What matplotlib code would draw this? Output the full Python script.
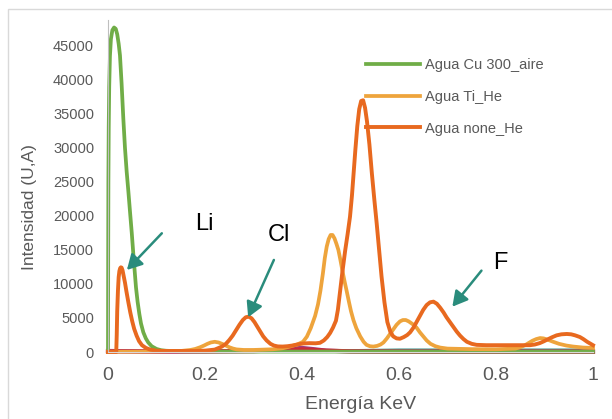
import matplotlib
matplotlib.use("Agg")
import matplotlib.pyplot as plt
from matplotlib.patches import Rectangle

plt.rcParams["font.family"] = ["Liberation Sans", "DejaVu Sans"]

# Agua Cu 300_aire
x_cu = [0.0, 0.0004, 0.0008, 0.0015, 0.0025, 0.004, 0.006, 0.009, 0.0125, 0.016,
        0.019, 0.022, 0.0247, 0.028, 0.0316, 0.035, 0.0385, 0.042, 0.0454, 0.049,
        0.052, 0.055, 0.0577, 0.061, 0.0646, 0.068, 0.0728, 0.078, 0.083, 0.09,
        0.10, 0.11, 0.12, 0.15, 0.20, 0.30, 0.40, 0.50, 0.60, 0.70,
        0.80, 0.90, 1.0]
y_cu = [0, 14000, 25000, 33000, 39000, 43500, 46000, 47300, 47700, 47500,
        46700, 45300, 43600, 39500, 34300, 30000, 26500, 23600, 20600, 17500,
        14600, 11900, 9500, 7400, 5600, 4200, 2900, 2000, 1400, 850,
        450, 250, 180, 100, 80, 60, 60, 60, 60, 60,
        60, 60, 60]

# Agua Ti_He
x_ti = [0.0, 0.05, 0.10, 0.15, 0.17, 0.18, 0.19, 0.198, 0.205, 0.212,
        0.22, 0.228, 0.235, 0.243, 0.25, 0.258, 0.265, 0.28, 0.30, 0.34,
        0.36, 0.375, 0.39, 0.402, 0.41, 0.418, 0.427, 0.433, 0.438, 0.443,
        0.447, 0.451, 0.455, 0.459, 0.463, 0.467, 0.471, 0.475, 0.479, 0.484,
        0.488, 0.492, 0.497, 0.501, 0.506, 0.512, 0.52, 0.527, 0.533, 0.54,
        0.547, 0.555, 0.562, 0.568, 0.575, 0.582, 0.588, 0.595, 0.602, 0.608,
        0.614, 0.62, 0.628, 0.636, 0.643, 0.65, 0.657, 0.665, 0.675, 0.685,
        0.70, 0.75, 0.80, 0.84, 0.85, 0.86, 0.868, 0.875, 0.883, 0.891,
        0.898, 0.905, 0.918, 0.93, 0.945, 0.959, 0.98, 1.0]
y_ti = [50, 50, 80, 150, 300, 450, 700, 950, 1200, 1400,
        1500, 1400, 1200, 950, 700, 500, 380, 300, 300, 400,
        550, 800, 1100, 1500, 2250, 3500, 5300, 7000, 9000, 11500,
        13800, 15500, 16600, 17200, 17200, 16700, 15900, 15000, 13600, 11700,
        10300, 9000, 7300, 6000, 4700, 3500, 2300, 1500, 1050, 850,
        800, 900, 1100, 1400, 2000, 2700, 3300, 4000, 4500, 4700,
        4700, 4500, 4100, 3600, 2900, 2300, 1700, 1200, 850, 650,
        500, 420, 400, 500, 700, 1000, 1350, 1650, 1900, 2050,
        2000, 1850, 1500, 1200, 950, 800, 650, 600]

# Agua none_He
x_none = [0.0, 0.017, 0.018, 0.019, 0.0205, 0.022, 0.0235, 0.025, 0.0265, 0.028,
          0.030, 0.032, 0.035, 0.038, 0.042, 0.046, 0.05, 0.054, 0.059, 0.064,
          0.07, 0.078, 0.087, 0.10, 0.12, 0.15, 0.18, 0.20, 0.22, 0.235,
          0.243, 0.25, 0.257, 0.264, 0.271, 0.278, 0.284, 0.29, 0.296, 0.302,
          0.308, 0.314, 0.32, 0.327, 0.335, 0.342, 0.35, 0.36, 0.37, 0.38,
          0.39, 0.402, 0.415, 0.428, 0.437, 0.445, 0.452, 0.458, 0.464, 0.47,
          0.474, 0.478, 0.483, 0.489, 0.494, 0.499, 0.503, 0.506, 0.51, 0.514,
          0.518, 0.522, 0.526, 0.53, 0.534, 0.539, 0.544, 0.549, 0.554, 0.559,
          0.564, 0.57, 0.576, 0.582, 0.588, 0.595, 0.602, 0.61, 0.617, 0.623,
          0.63, 0.637, 0.643, 0.65, 0.657, 0.664, 0.671, 0.678, 0.685, 0.692,
          0.698, 0.705, 0.712, 0.719, 0.726, 0.733, 0.74, 0.75, 0.76, 0.78,
          0.80, 0.85, 0.87, 0.88, 0.89, 0.898, 0.905, 0.915, 0.925, 0.935,
          0.946, 0.955, 0.963, 0.973, 0.98, 0.988, 0.995, 1.0]
y_none = [0, 0, 2500, 6000, 9000, 11000, 11900, 12300, 12450, 12400,
          12000, 11300, 10200, 8900, 7300, 5800, 4500, 3400, 2400, 1600,
          1000, 600, 350, 200, 150, 150, 150, 200, 350, 800,
          1200, 1750, 2400, 3200, 4000, 4700, 5100, 5200, 4950, 4400,
          3700, 3000, 2300, 1700, 1200, 950, 820, 800, 850, 950,
          1100, 1250, 1300, 1280, 1350, 1700, 2200, 2800, 3600, 4600,
          6200, 8600, 11600, 14900, 17300, 19900, 23000, 25900, 29700, 33200,
          35700, 36900, 37000, 35900, 33900, 30500, 26300, 22500, 18900, 15000,
          11100, 7300, 4400, 3000, 2300, 2000, 1950, 2200, 2500, 2900,
          3600, 4500, 5300, 6200, 6900, 7300, 7400, 7100, 6500, 5800,
          5100, 4400, 3700, 3000, 2400, 1900, 1500, 1200, 1050, 1000,
          1000, 1000, 1000, 1100, 1300, 1550, 1800, 2150, 2450, 2600,
          2650, 2600, 2450, 2200, 1900, 1500, 1200, 1000]

# other runs sitting on the baseline (not in legend)
x_base = [0.0, 0.10, 0.20, 0.30, 0.35, 0.38, 0.40, 0.42, 0.45, 0.50,
          0.60, 0.70, 0.80, 0.90, 1.0]
y_red = [80, 80, 100, 150, 220, 350, 400, 330, 200, 100,
         60, 60, 60, 60, 60]
y_purple = [150, 60, 80, 120, 250, 500, 600, 450, 200, 80,
            40, 40, 40, 40, 40]
y_teal = [120, 60, 60, 60, 80, 100, 120, 120, 200, 300,
          400, 400, 400, 400, 400]

xticks = [0, 0.2, 0.4, 0.6, 0.8, 1.0]
xticklabels = ["0", "0.2", "0.4", "0.6", "0.8", "1"]
yticks = [0, 5000, 10000, 15000, 20000, 25000, 30000, 35000, 40000, 45000]

gray = "#595959"
arrow_col = "#2A8C7C"

fig = plt.figure(figsize=(6.12, 4.19), dpi=100)
fig.patches.append(Rectangle((8 / 612, -0.1), 1.2, (419 - 9) / 419 + 0.1,
                             transform=fig.transFigure, fill=False,
                             edgecolor="#D9D9D9", lw=1.0))
ax = fig.add_axes([108 / 612, 67 / 419, 485 / 612, 332 / 419])

ax.plot(x_base, y_teal, color="#4A9A95", lw=1.2, clip_on=False)
ax.plot(x_base, y_purple, color="#9B3F7F", lw=3.0, clip_on=False)
ax.plot(x_base, y_red, color="#CC2A36", lw=3.0, clip_on=False)
ax.plot(x_cu, y_cu, color="#70AD47", lw=2.7, label="Agua Cu 300_aire",
        clip_on=False, solid_joinstyle="round")
ax.plot(x_ti, y_ti, color="#EEA43C", lw=2.7, label="Agua Ti_He",
        clip_on=False, solid_joinstyle="round")
ax.plot(x_none, y_none, color="#E8691F", lw=2.8, label="Agua none_He",
        clip_on=False, solid_joinstyle="round")

ax.set_xlim(0, 1)
ax.set_ylim(0, 48800)
ax.set_xticks(xticks)
ax.set_xticklabels(xticklabels)
ax.set_yticks(yticks)
ax.tick_params(axis="both", length=0, colors=gray)
ax.tick_params(axis="y", labelsize=10.5, pad=10)
ax.tick_params(axis="x", labelsize=14, pad=11)

for s in ["top", "right"]:
    ax.spines[s].set_visible(False)
ax.spines["left"].set_color("#BFBFBF")
ax.spines["bottom"].set_color("#D9D9D9")

ax.set_xlabel("Energía KeV", fontsize=14, color=gray)
ax.xaxis.set_label_coords(0.52, -0.133)
ax.set_ylabel("Intensidad (U,A)", fontsize=12.5, color=gray)
ax.yaxis.set_label_coords(-0.146, 0.437)

ax.legend(loc="upper left", bbox_to_anchor=(366 / 612, (419 - 58) / 419),
          bbox_transform=fig.transFigure, frameon=False, fontsize=10.5,
          labelcolor=gray, handlelength=3.7, handletextpad=0.35,
          labelspacing=1.22, borderpad=0, borderaxespad=0)

arrow_kw = dict(arrowstyle="-|>,head_length=0.9,head_width=0.5",
                color=arrow_col, lw=1.8, mutation_scale=10,
                shrinkA=0, shrinkB=0)
ax.annotate("", xy=(0.039, 12060), xytext=(0.111, 17450), arrowprops=arrow_kw)
ax.annotate("", xy=(0.289, 5100), xytext=(0.342, 13530), arrowprops=arrow_kw)
ax.annotate("", xy=(0.710, 6660), xytext=(0.770, 11960), arrowprops=arrow_kw)

ax.text(0.198, 18820, "Li", fontsize=17, ha="center", va="center", color="black")
ax.text(0.3515, 17200, "Cl", fontsize=17, ha="center", va="center", color="black")
ax.text(0.808, 13010, "F", fontsize=17, ha="center", va="center", color="black")

fig.savefig("out.png", dpi=100)
